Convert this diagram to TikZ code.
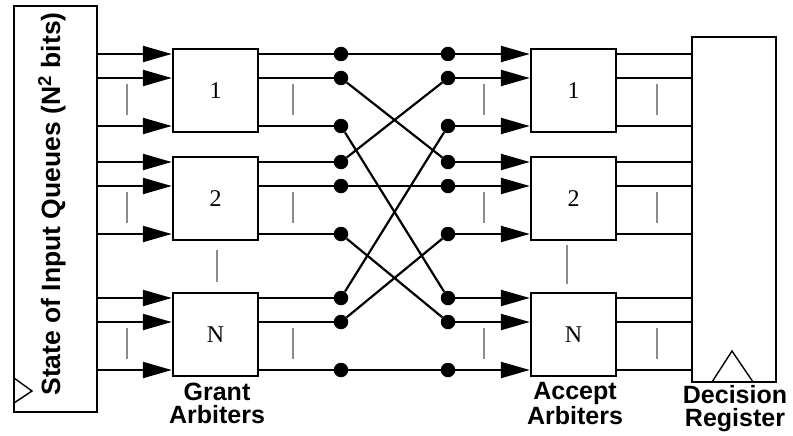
\documentclass[tikz,border=0pt]{standalone}
\usepackage{fontspec}
\setmainfont{Liberation Serif}
\setsansfont{Liberation Sans}
\usetikzlibrary{arrows.meta}
\definecolor{tickgray}{HTML}{8C8C8C}

\begin{document}
\begin{tikzpicture}[x=1pt,y=-1pt,
  frame/.style={draw, line width=2.4pt, inner sep=0pt},
  arbiter/.style={frame, minimum width=85pt, minimum height=83pt,
    font=\fontsize{24}{24}\selectfont},
  wire/.style={line width=2.2pt},
  arr/.style={wire, -{Triangle[length=29pt,width=16pt]}},
  dot/.style={circle, fill, inner sep=0pt, minimum size=14.5pt},
  tick/.style={draw=tickgray, line width=2pt},
  clock/.style={line width=1.4pt},
  lbl/.style={font=\sffamily\bfseries\fontsize{25}{23}\selectfont, align=center}]

\useasboundingbox (0,0) rectangle (793,436);

% input queue state and decision register
\node[frame, minimum width=83pt, minimum height=406pt] (queues) at (55.5,209) {};
\node[rotate=90, font=\sffamily\bfseries\fontsize{26.5}{26.5}\selectfont]
  (qlabel) at (52,204) {State of Input Queues (N\textsuperscript{2} bits)};
\node[frame, minimum width=84pt, minimum height=345pt] (reg) at (734,209.5) {};

% clock inputs
\draw[clock] (14,378) -- (32,391) -- (14,403);
\draw[clock] (712,382) -- (732,351) -- (753,382);

% grant and accept arbiters
\foreach \i/\t/\name in {1/54/1, 2/162/2, 3/298/N}{
  \node[arbiter] (g\i) at (215.5,\t+36.5) {\name};
  \node[arbiter] (a\i) at (573.5,\t+36.5) {\name};
  \foreach \j/\d in {1/0, 2/24, 3/72}{
    \node[dot] (l\i\j) at (341,\t+\d) {};
    \node[dot] (r\i\j) at (448,\t+\d) {};
  }
}

% request lines, grant outputs, accept inputs, decision inputs
\foreach \i in {1,2,3}{
  \foreach \j in {1,2,3}{
    \draw[arr] (queues.east |- l\i\j) -- (g\i.west |- l\i\j);
    \draw[wire] (g\i.east |- l\i\j) -- (l\i\j);
    \draw[arr] (r\i\j) -- (a\i.west |- r\i\j);
    \draw[wire] (a\i.east |- r\i\j) -- (reg.west |- r\i\j);
    \draw[wire] (l\i\j) -- (r\j\i);
  }
}

% elision marks
\foreach \t in {49,157,293}{
  \foreach \x in {127,293,484,657}{
    \draw[tick] (\x,\t+35) -- (\x,\t+66);
  }
}
\draw[tick] (217,250) -- (217,282);
\draw[tick] (567,245) -- (567,284);

% captions
\node[lbl] (glbl) at (217,403.5) {Grant\\Arbiters};
\node[lbl] (albl) at (575,403.5) {Accept\\Arbiters};
\node[lbl] (rlbl) at (735,409) {Decision\\Register};
\end{tikzpicture}
\end{document}
